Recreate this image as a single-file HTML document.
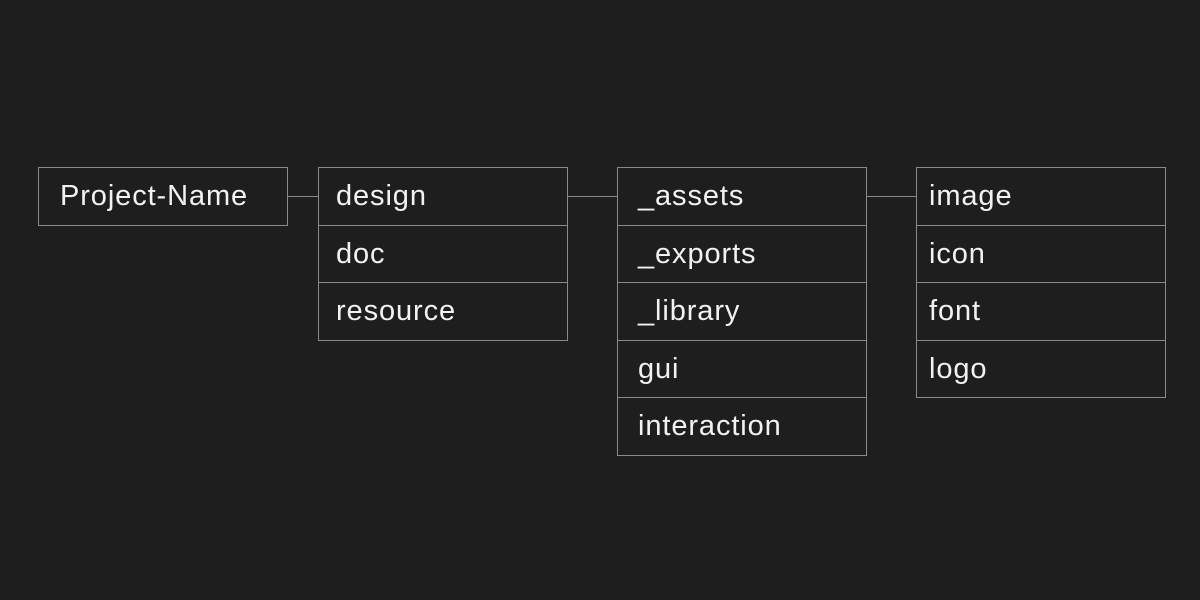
<!DOCTYPE html>
<html><head><style>
body{margin:0;width:1200px;height:600px;background:#1e1e1e;position:relative;overflow:hidden;font-family:"Liberation Sans","DejaVu Sans",sans-serif;}
.b{position:absolute;border:1px solid #8a8a8a;box-sizing:border-box;color:#f2f2f2;font-size:29px;letter-spacing:0.9px;line-height:56px;padding-left:21px;width:250px;height:58.5px;}
.c2{padding-left:17px;}
.c3{padding-left:20px;}
.c4{padding-left:12px;}
.l{position:absolute;height:1px;background:#8a8a8a;top:196px;}
</style></head><body>
<div class="b" style="left:38px;top:167px;">Project-Name</div>
<div class="l" style="left:287px;width:32px;"></div>
<div class="b c2" style="left:318px;top:167px;">design</div>
<div class="b c2" style="left:318px;top:224.5px;">doc</div>
<div class="b c2" style="left:318px;top:282px;">resource</div>
<div class="l" style="left:567px;width:51px;"></div>
<div class="b c3" style="left:617px;top:167px;">_assets</div>
<div class="b c3" style="left:617px;top:224.5px;">_exports</div>
<div class="b c3" style="left:617px;top:282px;">_library</div>
<div class="b c3" style="left:617px;top:339.5px;">gui</div>
<div class="b c3" style="left:617px;top:397px;">interaction</div>
<div class="l" style="left:866px;width:51px;"></div>
<div class="b c4" style="left:916px;top:167px;">image</div>
<div class="b c4" style="left:916px;top:224.5px;">icon</div>
<div class="b c4" style="left:916px;top:282px;">font</div>
<div class="b c4" style="left:916px;top:339.5px;">logo</div>
</body></html>
